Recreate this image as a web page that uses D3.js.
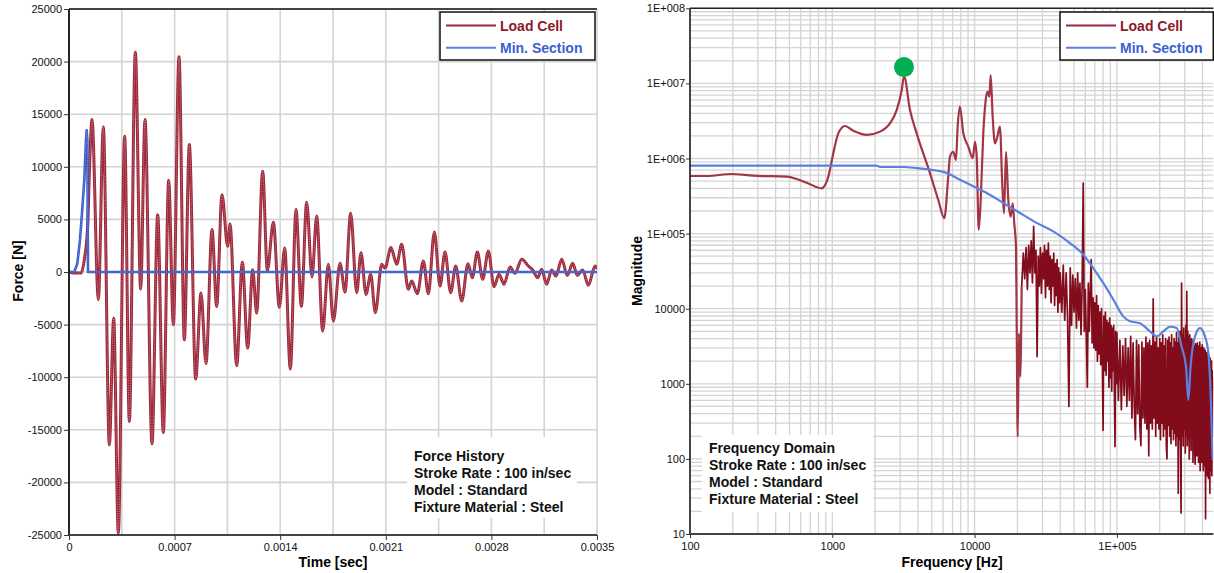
<!DOCTYPE html>
<html>
<head>
<meta charset="utf-8">
<script src="https://cdn.jsdelivr.net/npm/d3@7"></script>
<style>
  html, body { margin: 0; padding: 0; background: #fff; }
  svg { display: block; }
  text { font-family: "Liberation Sans", Arial, sans-serif; }
</style>
</head>
<body>
<svg id="chart" width="1214" height="573"></svg>
<script>
// ---------- Force history (time in s, force in N) ----------
const loadCellTime = [
  0, 0.0000300, 0.0000800, 0.0001016, 0.0001237, 0.0001348, 0.0001525, 0.0001945,
  0.0002276, 0.0002674, 0.0002961, 0.0003270, 0.0003690, 0.0004000, 0.0004397, 0.0004751,
  0.0005038, 0.0005502, 0.0005878, 0.0006253, 0.0006607, 0.0006916, 0.0007292, 0.0007646,
  0.0007977, 0.0008397, 0.0008750, 0.0009082, 0.0009480, 0.0009789, 0.0010143, 0.0010518,
  0.0010673, 0.0011115, 0.0011490, 0.0011844, 0.0012175, 0.0012441, 0.0012838, 0.0013148,
  0.0013546, 0.0013943, 0.0014297, 0.0014672, 0.0015048, 0.0015402, 0.0015755, 0.0016109,
  0.0016418, 0.0016816, 0.0017191, 0.0017523, 0.0017965, 0.0018296, 0.0018672, 0.0019070,
  0.0019357, 0.0019688, 0.0019997, 0.0020307, 0.0020727, 0.0020948, 0.0021345, 0.0021721,
  0.0022053, 0.0022494, 0.0022716, 0.0023091, 0.0023489, 0.0023820, 0.0024218, 0.0024594,
  0.0024925, 0.0025301, 0.0025632, 0.0026030, 0.0026450, 0.0026737, 0.0027068, 0.0027422,
  0.0027798, 0.0028173, 0.0028505, 0.0028836, 0.0029234, 0.0029565, 0.0030007, 0.0030449,
  0.0030737, 0.0031068, 0.0031333, 0.0031665, 0.0031996, 0.0032283, 0.0032659, 0.0033034,
  0.0033388, 0.0033697, 0.0034051, 0.0034427, 0.0034869, 0.0035000
];
const loadCellForce = [
  0, -100, -100, 1170, 4340, 9410, 14490, -2630,
  13790, -16420, -4400, -24800, 12900, -14200, 20900, -1620,
  14490, -16330, 5450, -15250, 8720, -5010, 20450, -6440,
  12110, -10180, -2000, -8720, 4030, -3270, 7350, 2440,
  4560, -8910, 920, -7230, 220, -3900, 9570, 130,
  4720, -3360, 2280, -9220, 5930, -3270, 6620, -475,
  5330, -5620, 730, -4670, 830, -1900, 5590, -1970,
  1840, -2130, -220, -3870, 730, 380, 2320, 730,
  2640, -1650, -860, -2060, 1050, -2060, 3810, -1330,
  1900, -1970, 570, -2760, 790, -540, 1900, -700,
  2000, -1400, -220, -1170, 480, -130, 1210, 570,
  190, -540, 250, -1170, 190, -380, 1210, -320,
  830, -320, 190, -1270, 570, 300
];
const minSectionTime = [0, 0.0000350, 0.0000550, 0.0000730, 0.0000862, 0.0001016, 0.0001127, 0.0001171, 0.0001215, 0.0001260, 0.0035000];
const minSectionForce = [0, 0, 800, 3070, 5610, 8780, 12580, 13470, 12580, 0, 0];

const timeTicks  = [0, 0.0007, 0.0014, 0.0021, 0.0028, 0.0035];
const timeGrid   = [0, 0.00035, 0.0007, 0.00105, 0.0014, 0.00175, 0.0021, 0.00245, 0.0028, 0.00315, 0.0035];
const forceTicks = [-25000, -20000, -15000, -10000, -5000, 0, 5000, 10000, 15000, 20000, 25000];

// ---------- Frequency domain (Hz, magnitude) ----------
const loadCellFreq = [
  100, 131, 196, 279, 478, 661, 841, 938, 1016, 1102, 1227, 1406, 1746, 2163, 2541, 2838,
  3076, 3190, 3516, 3917, 4864, 5559, 6124, 6531, 6714, 7079, 7396, 7603, 7889, 8337, 9036,
  9705, 10070, 10350, 10690, 11040, 11510, 11970, 12360, 12710, 12970, 13400, 13900, 14450,
  15070, 15670, 16110, 16630, 17260, 17950, 18530, 19010, 19540, 19770, 20090, 20510, 20940, 21430
];
const loadCellMag = [
  585000, 585000, 622000, 590000, 573000, 476000, 401000, 573000, 1170000, 2160000, 2710000,
  2340000, 2060000, 2280000, 2940000, 4430000, 8170000, 12500000, 4430000, 2160000, 635000,
  280000, 160000, 573000, 1060000, 1230000, 955000, 2650000, 4900000, 2160000, 1440000,
  1010000, 1670000, 1060000, 112000, 280000, 2160000, 6000000, 7760000, 6650000, 12900000,
  3600000, 1590000, 1950000, 2650000, 422000, 186000, 1230000, 280000, 168000, 253000,
  137000, 66800, 5750, 198, 4700, 1240, 19600
];
// noisy high-frequency band of the load cell spectrum, [Hz, magnitude]
const loadCellSpectrumHF = [
  [22000, 55000], [22500, 25000], [23000, 65000], [23500, 18000], [24000, 70000], [24500, 30000],
  [25000, 80000], [25500, 22000], [26000, 125000], [26500, 30000], [27000, 60000], [27500, 2300],
  [28000, 50000], [28500, 20000], [29000, 65000], [29500, 16000], [30000, 55000], [30500, 25000],
  [31000, 70000], [31500, 14000], [32000, 60000], [32500, 20000], [33000, 75000], [33500, 18000],
  [34000, 50000], [34500, 12000], [35000, 45000], [35500, 20000], [36000, 55000], [36500, 11000],
  [37000, 40000], [37500, 15000], [38000, 45000], [38500, 9000], [39000, 35000], [39500, 12000],
  [40000, 30000], [41000, 9000], [42000, 38000], [43000, 7000], [44000, 30000], [45000, 8000],
  [46000, 500], [47000, 35000], [48000, 6000], [49000, 28000], [50000, 9000], [51000, 25000],
  [52000, 5500], [53000, 30000], [54000, 7000], [55000, 22000], [56000, 4500], [57000, 20000],
  [58000, 470000], [59000, 5000], [60000, 18000], [61000, 4000], [62000, 900], [63000, 22000],
  [64000, 5000], [65000, 16000], [66000, 45000], [67000, 3500], [68000, 14000], [69000, 3000],
  [70000, 12000], [71000, 2800], [72000, 15000], [73000, 2000], [74000, 11000], [75000, 2500],
  [76000, 9000], [77000, 1800], [78000, 10000], [79000, 2200], [80000, 240], [81000, 8000],
  [82000, 1500], [83000, 9000], [84000, 1300], [85000, 7000], [86000, 2000], [87000, 6500],
  [88000, 900], [89000, 7500], [90000, 1200], [91000, 6000], [92000, 800], [93000, 5500],
  [94000, 1500], [95000, 6000], [96000, 900], [97000, 146], [98000, 5000], [99000, 1000],
  [100000, 4800], [102500, 600], [105000, 3800], [107500, 450], [110000, 3200], [112500, 700],
  [115000, 4000], [117500, 500], [120000, 3000], [122500, 600], [125000, 4300], [127500, 350],
  [130000, 3500], [132500, 500], [135000, 180], [137500, 3800], [140000, 400], [142500, 3300],
  [145000, 270], [147500, 150], [150000, 3600], [152500, 350], [155000, 3000], [157500, 300],
  [160000, 4200], [162500, 250], [165000, 3500], [167500, 110], [170000, 3800], [172500, 300],
  [175000, 3200], [177500, 250], [180000, 13500], [182500, 350], [185000, 3600], [187500, 200],
  [190000, 4200], [192500, 300], [195000, 3000], [197500, 250], [200000, 4000], [202500, 180],
  [205000, 3500], [207500, 300], [210000, 4500], [212500, 200], [215000, 3200], [217500, 250],
  [220000, 4000], [222500, 150], [225000, 100], [227500, 3800], [230000, 280], [232500, 4200],
  [235000, 200], [237500, 3500], [240000, 160], [242500, 4500], [245000, 250], [247500, 3000],
  [250000, 180], [252500, 4000], [255000, 220], [257500, 3600], [260000, 150], [262500, 4800],
  [265000, 200], [267500, 3500], [270000, 35], [272500, 4200], [275000, 180], [277500, 5000],
  [280000, 150], [282500, 19], [285000, 22000], [287500, 200], [290000, 4500], [292500, 150],
  [295000, 5500], [297500, 250], [300000, 4000], [302500, 120], [305000, 6000], [307500, 200],
  [310000, 17000], [312500, 150], [315000, 5000], [317500, 180], [320000, 4200], [322500, 100],
  [325000, 4500], [327500, 200], [330000, 3800], [332500, 130], [335000, 4000], [337500, 180],
  [340000, 3500], [342500, 90], [345000, 3800], [347500, 150], [350000, 3200], [352500, 120],
  [355000, 85], [357500, 3400], [360000, 150], [362500, 3000], [365000, 110], [367500, 3500],
  [370000, 130], [372500, 2800], [375000, 90], [377500, 3200], [380000, 150], [382500, 3600],
  [385000, 70], [387500, 3000], [390000, 120], [392500, 2800], [395000, 90], [397500, 3300],
  [400000, 140], [402500, 2500], [405000, 70], [407500, 3000], [410000, 110], [412500, 2400],
  [415000, 80], [417500, 2800], [420000, 16], [422500, 2200], [425000, 90], [427500, 2600],
  [430000, 60], [432500, 2500], [435000, 100], [437500, 2000], [440000, 55], [442500, 2400],
  [445000, 80], [447500, 1800], [450000, 35], [452500, 2200], [455000, 70], [457500, 1600],
  [460000, 90], [462500, 2000], [465000, 60], [467500, 1500], [470000, 200], [472500, 1200],
  [475000, 800]
];
const minSectionFreq = [
  100, 2051, 2163, 3148, 3917, 4864, 6368, 7889, 9795, 12160, 15920, 20840, 27290, 35730,
  46770, 58070, 68230, 80350, 94410, 110900, 123600, 145200, 171000, 190500, 211800, 236000,
  263000, 285100, 306200, 317700, 329600, 354000, 383700, 415900, 439500, 456000, 471000
];
const minSectionMag = [
  802000, 802000, 771000, 771000, 746000, 710000, 641000, 522000, 427000, 348000, 256000,
  188000, 139000, 107000, 74800, 52400, 34800, 21900, 13200, 7900, 6800, 6400, 4980, 4280,
  4980, 5750, 5520, 3120, 1690, 608, 1690, 4280, 5520, 4280, 2560, 747, 97
];
const peakFreq = 3190;
const peakMag = 16500000;

const freqTicks = [100, 1000, 10000, 100000];
const magTicks  = [10, 100, 1000, 10000, 100000, 1000000, 10000000, 100000000];

const seriesNames  = ["Load Cell", "Min. Section"];
const historyNotes  = ["Force History", "Stroke Rate : 100 in/sec", "Model : Standard", "Fixture Material : Steel"];
const spectrumNotes = ["Frequency Domain", "Stroke Rate : 100 in/sec", "Model : Standard", "Fixture Material : Steel"];

// ---------- styling ----------
const RED = "#9c2738", RED_LIGHT = "#dc98a3", RED_DARK = "#820c1c";
const BLUE = "#3559c8", BLUE_LIGHT = "#8fabef", BLUE_SPEC = "#5b80e0";
const GRID = "#d4d4d4";

const svg = d3.select("#chart");

function logLabel(v) {
  const e = Math.round(Math.log10(v));
  return v >= 100000 ? "1E+" + String(e).padStart(3, "0") : String(v);
}

function styleAxis(g) {
  g.select(".domain").remove();
  g.selectAll(".tick line").attr("stroke", "#333").attr("stroke-width", 1);
  g.selectAll(".tick text").attr("fill", "#111").style("font-size", "11px")
    .style("font-family", '"Liberation Sans", Arial, sans-serif');
}

function legend(x, y, w, h) {
  const g = svg.append("g");
  g.append("rect").attr("x", x).attr("y", y).attr("width", w).attr("height", h)
    .attr("fill", "#fff").attr("stroke", "#111").attr("stroke-width", 1.5);
  const cols = [RED, BLUE_SPEC];
  const textCols = ["#8b1a2a", "#3a5fd0"];
  seriesNames.forEach((name, i) => {
    const cy = y + 13.5 + i * 22.3;
    g.append("line").attr("x1", x + 6).attr("x2", x + 56).attr("y1", cy).attr("y2", cy)
      .attr("stroke", cols[i]).attr("stroke-width", 2);
    g.append("text").attr("x", x + 60).attr("y", cy + 5).text(name)
      .attr("fill", textCols[i]).style("font-size", "14px").style("font-weight", "bold");
  });
}

function notes(lines, x, y, bx, by, bw, bh) {
  const g = svg.append("g");
  g.append("rect").attr("x", bx).attr("y", by).attr("width", bw).attr("height", bh).attr("fill", "#fff");
  lines.forEach((t, i) => {
    g.append("text").attr("x", x).attr("y", y + i * 17).text(t)
      .attr("fill", "#111").style("font-size", "14px").style("font-weight", "bold");
  });
}

// =================== Force history ===================
const L = { x0: 69, x1: 597, y0: 9, y1: 535 };
const xT = d3.scaleLinear().domain([0, 0.0035]).range([L.x0, L.x1]);
const yF = d3.scaleLinear().domain([-25000, 25000]).range([L.y1, L.y0]);

const gL = svg.append("g");
gL.selectAll("line.vg").data(timeGrid).join("line")
  .attr("x1", d => xT(d)).attr("x2", d => xT(d)).attr("y1", L.y0).attr("y2", L.y1)
  .attr("stroke", GRID).attr("stroke-width", 1.6);
gL.selectAll("line.hg").data(forceTicks).join("line")
  .attr("x1", L.x0).attr("x2", L.x1).attr("y1", d => yF(d)).attr("y2", d => yF(d))
  .attr("stroke", GRID).attr("stroke-width", 1.6);

notes(historyNotes, 414, 460.5, 407, 437, 170, 81);

svg.append("defs").append("clipPath").attr("id", "clipL")
  .append("rect").attr("x", L.x0).attr("y", L.y0).attr("width", L.x1 - L.x0).attr("height", L.y1 - L.y0);

const histLine = d3.line().x(d => xT(d[0])).y(d => yF(d[1])).curve(d3.curveMonotoneX);
const loadHist = loadCellTime.map((t, i) => [t, loadCellForce[i]]);
const minHist = minSectionTime.map((t, i) => [t, minSectionForce[i]]);

const plotL = gL.append("g").attr("clip-path", "url(#clipL)");
function trace(g, data, line, outer, inner, w) {
  g.append("path").datum(data).attr("d", line).attr("fill", "none")
    .attr("stroke", outer).attr("stroke-width", w).attr("stroke-linejoin", "round");
  g.append("path").datum(data).attr("d", line).attr("fill", "none")
    .attr("stroke", inner).attr("stroke-width", 0.9).attr("stroke-dasharray", "1.2 1.2")
    .attr("opacity", 0.8);
}
trace(plotL, loadHist, histLine, RED, RED_LIGHT, 3);
trace(plotL, minHist, d3.line().x(d => xT(d[0])).y(d => yF(d[1])), BLUE, BLUE_LIGHT, 2.6);

// frame
gL.append("line").attr("x1", L.x0).attr("x2", L.x1).attr("y1", L.y0).attr("y2", L.y0).attr("stroke", "#111").attr("stroke-width", 1.6);
gL.append("line").attr("x1", L.x0).attr("x2", L.x0).attr("y1", L.y0).attr("y2", L.y1).attr("stroke", "#111").attr("stroke-width", 1.8);
gL.append("line").attr("x1", L.x0).attr("x2", L.x1).attr("y1", L.y1).attr("y2", L.y1).attr("stroke", "#444").attr("stroke-width", 1.8);

gL.append("g").attr("transform", `translate(${L.x0},0)`)
  .call(d3.axisLeft(yF).tickValues(forceTicks).tickSize(5).tickPadding(2).tickFormat(d => String(d)))
  .call(styleAxis);
gL.append("g").attr("transform", `translate(0,${L.y1})`)
  .call(d3.axisBottom(xT).tickValues(timeTicks).tickSize(5).tickPadding(3)
    .tickFormat(d => d === 0 ? "0" : d.toFixed(4)))
  .call(styleAxis);

svg.append("text").attr("x", 333).attr("y", 567).attr("text-anchor", "middle")
  .text("Time [sec]").style("font-size", "14px").style("font-weight", "bold");
svg.append("text").attr("transform", "translate(23,271) rotate(-90)").attr("text-anchor", "middle")
  .text("Force [N]").style("font-size", "14px").style("font-weight", "bold");

legend(440, 12, 155, 48);

// =================== Frequency domain ===================
const R = { x0: 690, x1: 1213.3, y0: 8.3, y1: 534 };
const xf = d3.scaleLog().domain([100, 476000]).range([R.x0, R.x1]);
const ym = d3.scaleLog().domain([10, 1e8]).range([R.y1, R.y0]);

const gR = svg.append("g");
const vGrid = [], hGrid = [];
for (let e = 2; e <= 5; e++) for (let m = 1; m <= 9; m++) { const v = m * 10 ** e; if (v <= 476000) vGrid.push(v); }
for (let e = 1; e <= 7; e++) for (let m = 1; m <= 9; m++) hGrid.push(m * 10 ** e);
hGrid.push(1e8);
gR.selectAll("line.vg").data(vGrid).join("line")
  .attr("x1", d => xf(d)).attr("x2", d => xf(d)).attr("y1", R.y0).attr("y2", R.y1)
  .attr("stroke", GRID).attr("stroke-width", 1.3);
gR.selectAll("line.hg").data(hGrid).join("line")
  .attr("x1", R.x0).attr("x2", R.x1).attr("y1", d => ym(d)).attr("y2", d => ym(d))
  .attr("stroke", GRID).attr("stroke-width", 1.3);

notes(spectrumNotes, 709, 452.7, 702, 435, 171, 77);

svg.select("defs").append("clipPath").attr("id", "clipR")
  .append("rect").attr("x", R.x0).attr("y", R.y0).attr("width", R.x1 - R.x0).attr("height", R.y1 - R.y0);
const plotR = gR.append("g").attr("clip-path", "url(#clipR)");

const specSmooth = d3.line().x(d => xf(d[0])).y(d => ym(d[1])).curve(d3.curveMonotoneX);
const specLinear = d3.line().x(d => xf(d[0])).y(d => ym(d[1]));

const loadSpec = loadCellFreq.map((f, i) => [f, loadCellMag[i]]);
const loadSpecHF = [loadSpec[loadSpec.length - 1]].concat(loadCellSpectrumHF);
const minSpec = minSectionFreq.map((f, i) => [f, minSectionMag[i]]);

plotR.append("path").datum(loadSpec).attr("d", specSmooth).attr("fill", "none")
  .attr("stroke", "#a33545").attr("stroke-width", 2.2).attr("stroke-linejoin", "round");
plotR.append("path").datum(loadSpecHF).attr("d", specLinear).attr("fill", "none")
  .attr("stroke", RED_DARK).attr("stroke-width", 1.7).attr("stroke-linejoin", "round");
plotR.append("path").datum(minSpec).attr("d", specSmooth).attr("fill", "none")
  .attr("stroke", BLUE_SPEC).attr("stroke-width", 2.2);

gR.append("circle").attr("cx", xf(peakFreq)).attr("cy", ym(peakMag)).attr("r", 10)
  .attr("fill", "#00b050");

gR.append("line").attr("x1", R.x0).attr("x2", R.x1).attr("y1", R.y0).attr("y2", R.y0).attr("stroke", "#222").attr("stroke-width", 1.5);
gR.append("line").attr("x1", R.x0).attr("x2", R.x0).attr("y1", R.y0).attr("y2", R.y1).attr("stroke", "#333").attr("stroke-width", 1.8);
gR.append("line").attr("x1", R.x0).attr("x2", R.x1).attr("y1", R.y1).attr("y2", R.y1).attr("stroke", "#444").attr("stroke-width", 1.8);

gR.append("g").attr("transform", `translate(${R.x0},0)`)
  .call(d3.axisLeft(ym).tickValues(magTicks).tickSize(4).tickPadding(1).tickFormat(logLabel))
  .call(styleAxis);
gR.append("g").attr("transform", `translate(0,${R.y1})`)
  .call(d3.axisBottom(xf).tickValues(freqTicks).tickSize(4).tickPadding(4).tickFormat(logLabel))
  .call(styleAxis);

svg.append("text").attr("x", 952).attr("y", 567).attr("text-anchor", "middle")
  .text("Frequency [Hz]").style("font-size", "14px").style("font-weight", "bold");
svg.append("text").attr("transform", "translate(642,271) rotate(-90)").attr("text-anchor", "middle")
  .text("Magnitude").style("font-size", "14px").style("font-weight", "bold");

legend(1060, 12, 153.3, 48);
</script>
</body>
</html>
